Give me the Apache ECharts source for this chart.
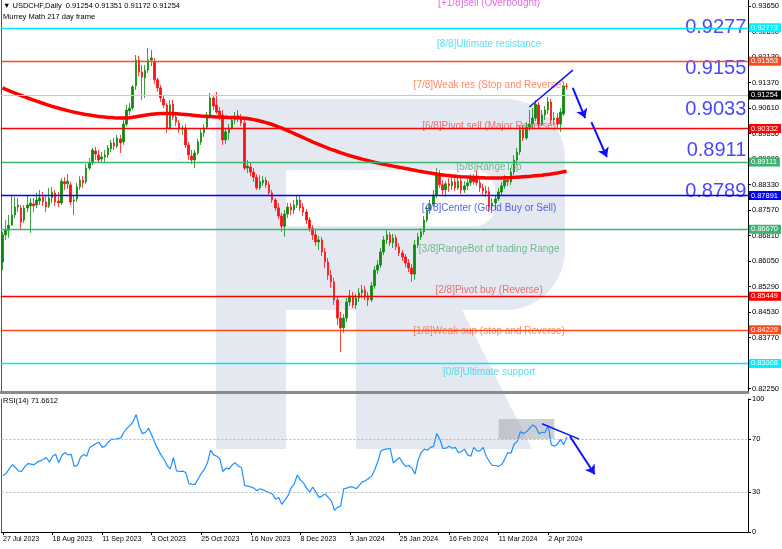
<!DOCTYPE html>
<html><head><meta charset="utf-8">
<script src="https://cdn.jsdelivr.net/npm/echarts@6/dist/echarts.min.js"></script>
<style>html,body{margin:0;padding:0;background:#fff}#c{width:782px;height:549px}</style>
</head><body><div id="c"></div>
<script>
const dateTicks = ['27 Jul 2023','18 Aug 2023','11 Sep 2023','3 Oct 2023','25 Oct 2023','16 Nov 2023','8 Dec 2023','3 Jan 2024','25 Jan 2024','16 Feb 2024','11 Mar 2024','2 Apr 2024'];
const priceTicks = [0.8225,0.8301,0.8377,0.8453,0.8529,0.8605,0.8681,0.8757,0.8833,0.8909,0.8985,0.9061,0.9137,0.9213,0.9289,0.9365];
const rsiTicks = [0,30,70,100];

const opens = [0.8602,0.8683,0.8697,0.8712,0.8742,0.8766,0.8763,0.8727,0.8763,0.8769,
0.8775,0.8772,0.8784,0.8796,0.8781,0.8769,0.8793,0.8808,0.8784,0.8778,
0.8841,0.8835,0.8832,0.8784,0.8790,0.8826,0.8846,0.8841,0.8882,0.8900,
0.8933,0.8921,0.8909,0.8915,0.8921,0.8939,0.8957,0.8948,0.8969,0.8960,
0.9013,0.9052,0.9061,0.9127,0.9204,0.9168,0.9151,0.9174,0.9204,0.9198,
0.9145,0.9121,0.9088,0.9070,0.9001,0.9073,0.9034,0.9016,0.8998,0.9001,
0.8951,0.8918,0.8906,0.8927,0.8960,0.8987,0.9004,0.9040,0.9091,0.9070,
0.9052,0.9040,0.8966,0.8987,0.9001,0.9025,0.9040,0.9031,0.9016,0.8882,
0.8885,0.8870,0.8855,0.8823,0.8838,0.8846,0.8832,0.8808,0.8787,0.8763,
0.8739,0.8709,0.8745,0.8766,0.8757,0.8772,0.8787,0.8766,0.8751,0.8727,
0.8703,0.8683,0.8662,0.8668,0.8632,0.8602,0.8563,0.8543,0.8489,0.8435,
0.8406,0.8435,0.8483,0.8501,0.8474,0.8495,0.8510,0.8519,0.8501,0.8489,
0.8531,0.8578,0.8593,0.8632,0.8668,0.8683,0.8659,0.8674,0.8647,0.8629,
0.8617,0.8599,0.8584,0.8566,0.8653,0.8677,0.8692,0.8727,0.8757,0.8775,
0.8802,0.8864,0.8832,0.8817,0.8835,0.8829,0.8841,0.8823,0.8843,0.8817,
0.8829,0.8838,0.8852,0.8858,0.8838,0.8823,0.8814,0.8811,0.8769,0.8778,
0.8790,0.8811,0.8829,0.8846,0.8841,0.8870,0.8906,0.8930,0.8996,0.8972,
0.9004,0.9013,0.9031,0.9070,0.9013,0.9040,0.9055,0.9079,0.9025,0.9031,
0.9013,0.9043,0.91254];

const closes = [0.8683,0.8697,0.8712,0.8742,0.8766,0.8772,0.8721,0.8763,0.8772,0.8778,
0.8769,0.8787,0.8793,0.8781,0.8766,0.8793,0.8811,0.8781,0.8778,0.8843,
0.8835,0.8843,0.8781,0.8787,0.8826,0.8846,0.8838,0.8882,0.8897,0.8936,
0.8924,0.8906,0.8915,0.8921,0.8942,0.8957,0.8948,0.8972,0.8957,0.9013,
0.9055,0.9061,0.9124,0.9204,0.9168,0.9153,0.9174,0.9204,0.9210,0.9145,
0.9121,0.9091,0.9070,0.9001,0.9070,0.9034,0.9019,0.8998,0.9001,0.8951,
0.8921,0.8906,0.8927,0.8960,0.8987,0.9001,0.9040,0.9091,0.9067,0.9049,
0.9040,0.8966,0.8990,0.9001,0.9025,0.9037,0.9031,0.9016,0.8882,0.8888,
0.8870,0.8855,0.8823,0.8841,0.8846,0.8832,0.8808,0.8787,0.8763,0.8739,
0.8709,0.8745,0.8766,0.8757,0.8772,0.8787,0.8763,0.8751,0.8727,0.8703,
0.8683,0.8662,0.8668,0.8632,0.8602,0.8563,0.8543,0.8489,0.8435,0.8406,
0.8435,0.8483,0.8501,0.8474,0.8495,0.8510,0.8519,0.8501,0.8489,0.8531,
0.8578,0.8593,0.8632,0.8668,0.8683,0.8659,0.8674,0.8647,0.8629,0.8617,
0.8599,0.8584,0.8566,0.8653,0.8677,0.8692,0.8727,0.8757,0.8775,0.8802,
0.8867,0.8832,0.8817,0.8835,0.8829,0.8841,0.8823,0.8843,0.8817,0.8829,
0.8838,0.8852,0.8841,0.8838,0.8823,0.8814,0.8808,0.8769,0.8778,0.8790,
0.8811,0.8829,0.8846,0.8841,0.8870,0.8906,0.8930,0.8996,0.8972,0.9004,
0.9013,0.9031,0.9073,0.9013,0.9040,0.9055,0.9079,0.9025,0.9031,0.9013,
0.9049,0.9127,0.91254];

const highs = [0.8692,0.8727,0.8742,0.8802,0.8796,0.8793,0.8772,0.8772,0.8802,0.8793,
0.8793,0.8808,0.8817,0.8811,0.8802,0.8823,0.8826,0.8817,0.8811,0.8852,
0.8855,0.8864,0.8841,0.8802,0.8838,0.8858,0.8858,0.8894,0.8912,0.8942,
0.8945,0.8936,0.8930,0.8936,0.8951,0.8966,0.8972,0.8981,0.8981,0.9025,
0.9070,0.9076,0.9130,0.9219,0.9216,0.9189,0.9189,0.9240,0.9234,0.9210,
0.9151,0.9130,0.9097,0.9076,0.9085,0.9085,0.9043,0.9025,0.9010,0.9013,
0.8960,0.8936,0.8936,0.8969,0.9001,0.9013,0.9049,0.9106,0.9100,0.9109,
0.9064,0.9055,0.9001,0.9013,0.9037,0.9049,0.9055,0.9043,0.9025,0.8906,
0.8897,0.8882,0.8864,0.8861,0.8858,0.8855,0.8843,0.8817,0.8793,0.8778,
0.8748,0.8757,0.8778,0.8778,0.8787,0.8802,0.8799,0.8778,0.8760,0.8736,
0.8712,0.8697,0.8680,0.8677,0.8644,0.8614,0.8578,0.8555,0.8501,0.8453,
0.8447,0.8495,0.8519,0.8513,0.8507,0.8525,0.8534,0.8531,0.8513,0.8543,
0.8590,0.8608,0.8644,0.8680,0.8697,0.8692,0.8686,0.8683,0.8659,0.8638,
0.8626,0.8611,0.8596,0.8668,0.8689,0.8703,0.8739,0.8769,0.8787,0.8817,
0.8882,0.8876,0.8846,0.8843,0.8852,0.8855,0.8852,0.8858,0.8852,0.8843,
0.8849,0.8864,0.8864,0.8876,0.8852,0.8835,0.8829,0.8826,0.8793,0.8802,
0.8823,0.8841,0.8861,0.8858,0.8882,0.8921,0.8942,0.9007,0.9010,0.9019,
0.9055,0.9061,0.9085,0.9079,0.9055,0.9067,0.9094,0.9088,0.9049,0.9046,
0.9061,0.9139,0.91351];

const lows = [0.8578,0.8668,0.8674,0.8721,0.8733,0.8751,0.8697,0.8718,0.8751,0.8689,
0.8751,0.8763,0.8772,0.8769,0.8751,0.8763,0.8778,0.8769,0.8766,0.8772,
0.8817,0.8820,0.8772,0.8742,0.8781,0.8817,0.8823,0.8835,0.8876,0.8891,
0.8906,0.8897,0.8897,0.8900,0.8912,0.8930,0.8936,0.8942,0.8927,0.8951,
0.9007,0.9040,0.9055,0.9115,0.9156,0.9085,0.9091,0.9165,0.9186,0.9133,
0.9109,0.9079,0.9061,0.8987,0.8996,0.9025,0.9007,0.8987,0.8981,0.8942,
0.8906,0.8894,0.8882,0.8921,0.8951,0.8975,0.8998,0.9031,0.9055,0.9043,
0.9025,0.8951,0.8954,0.8966,0.8996,0.9013,0.9019,0.9007,0.8876,0.8867,
0.8858,0.8841,0.8817,0.8817,0.8829,0.8823,0.8802,0.8778,0.8754,0.8730,
0.8692,0.8677,0.8733,0.8742,0.8745,0.8763,0.8754,0.8739,0.8715,0.8692,
0.8668,0.8650,0.8638,0.8620,0.8584,0.8549,0.8525,0.8474,0.8414,0.8334,
0.8391,0.8423,0.8471,0.8465,0.8462,0.8483,0.8495,0.8489,0.8471,0.8483,
0.8522,0.8566,0.8584,0.8623,0.8656,0.8650,0.8644,0.8638,0.8620,0.8605,
0.8587,0.8572,0.8543,0.8549,0.8644,0.8668,0.8683,0.8721,0.8745,0.8766,
0.8793,0.8823,0.8799,0.8796,0.8811,0.8817,0.8814,0.8817,0.8805,0.8808,
0.8817,0.8829,0.8832,0.8829,0.8811,0.8802,0.8796,0.8751,0.8748,0.8757,
0.8784,0.8802,0.8820,0.8829,0.8832,0.8861,0.8891,0.8921,0.8963,0.8966,
0.8993,0.9001,0.9022,0.9001,0.9007,0.9025,0.9043,0.9013,0.9010,0.9001,
0.8990,0.9037,0.91172];

const maVals = [0.91207,0.91168,0.91129,0.91090,0.91055,0.91019,0.90983,0.90947,0.90914,0.90879,
0.90846,0.90813,0.90781,0.90751,0.90721,0.90691,0.90661,0.90634,0.90608,0.90581,
0.90557,0.90533,0.90509,0.90488,0.90467,0.90450,0.90432,0.90414,0.90399,0.90384,
0.90372,0.90360,0.90348,0.90339,0.90330,0.90324,0.90318,0.90313,0.90310,0.90310,
0.90313,0.90321,0.90333,0.90348,0.90366,0.90381,0.90396,0.90411,0.90423,0.90432,
0.90438,0.90444,0.90447,0.90447,0.90447,0.90444,0.90438,0.90432,0.90426,0.90417,
0.90408,0.90399,0.90390,0.90381,0.90372,0.90366,0.90360,0.90354,0.90348,0.90342,
0.90339,0.90336,0.90333,0.90330,0.90327,0.90324,0.90321,0.90315,0.90307,0.90295,
0.90283,0.90265,0.90244,0.90223,0.90199,0.90175,0.90149,0.90119,0.90086,0.90050,
0.90015,0.89976,0.89937,0.89895,0.89854,0.89812,0.89771,0.89729,0.89687,0.89645,
0.89603,0.89565,0.89526,0.89487,0.89451,0.89415,0.89380,0.89347,0.89314,0.89281,
0.89252,0.89222,0.89192,0.89165,0.89138,0.89112,0.89088,0.89064,0.89040,0.89016,
0.88995,0.88975,0.88954,0.88933,0.88915,0.88897,0.88879,0.88861,0.88843,0.88826,
0.88808,0.88790,0.88772,0.88754,0.88736,0.88719,0.88701,0.88686,0.88671,0.88656,
0.88641,0.88629,0.88617,0.88605,0.88596,0.88587,0.88578,0.88569,0.88563,0.88558,
0.88552,0.88546,0.88540,0.88537,0.88534,0.88531,0.88528,0.88525,0.88525,0.88525,
0.88525,0.88528,0.88531,0.88534,0.88537,0.88543,0.88549,0.88555,0.88561,0.88567,
0.88572,0.88581,0.88590,0.88599,0.88608,0.88620,0.88632,0.88644,0.88659,0.88674,
0.88692,0.88710,0.88728];

const rsiVals = [42.3,44,47.5,50.6,48.5,46,45.5,49,51.4,51,
50.6,52.5,53.5,54.5,56,52.5,57,58.4,52,57.5,
59.7,58,58.4,49.4,50,56,58.4,57,63.6,65,
66.5,67.5,63.6,64.5,67.5,70,69.5,70.3,70.6,75,
78,80,83,88.3,79,74,75,78,73,67,
62.3,58,54.5,50,47.3,56,46,45.5,45.8,44.7,
36.4,36,35.8,40,44,47,52,61.6,58,57,
55,45.5,48,47.5,50.5,52,49.4,48.5,35,34.5,
33.8,33,31,32.5,31.7,30.5,29.5,28.6,24.7,26,
20.8,24,27.3,33.2,36,42.9,39,36.9,33,29.9,
33.8,30,26,27,28.6,26,23.4,16.4,18.5,19.5,
32.5,33,34,33.8,32.5,35,37.7,38.5,40.3,42,
46.8,53,61,62,62.5,62.8,52,54,56,52,
49.4,50,48,43.6,54,59.7,62.3,61.5,63.6,64.4,
74,70,62.8,63,64.4,63,63.6,59.7,60.5,62.3,
58,57,63.6,61,61,63.6,57,53,50,50,
49.4,50.6,55,59.7,59.2,66.2,68,75.3,74,75.3,
78,80.5,79,74,75,74.8,80,65.5,64.5,66.2,
69.6,65.5,71.66];

const levelValues = [0.93994,0.92773,0.91553,0.90332,0.89111,0.87891,0.86670,0.85449,0.84229,0.83008];
const levelNames = ['[+1/8]sell (Overbought)','[8/8]Ultimate resistance','[7/8]Weak res (Stop and Reverse)','[6/8]Pivot sell (Major Reverse)','[5/8]RangeTop','[4/8]Center (Good Buy or Sell)','[3/8]RangeBot of trading Range','[2/8]Pivot buy (Reverse)','[1/8]Weak sup (stop and Reverse)','[0/8]Ultimate support'];
const bigValues = [0.92773,0.91553,0.90332,0.89111,0.87891];
const bigLabels = ['0.9277','0.9155','0.9033','0.8911','0.8789'];
const lastPrice = 0.91254;

// styles
const FONT = 'Liberation Sans, Arial, sans-serif';
const lineColors = ['#ff00ff','#00e4ff','#ff4a1c','#ff0000','#3cb371','#0000ff','#3cb371','#ff0000','#ff4a1c','#00e4ff'];
const tagColors  = ['#ff00ff','#00f0ff','#ff4a1c','#ff0000','#3cb371','#0000ff','#3cb371','#ff0000','#ff4a1c','#00f0ff'];
const textColors = ['#e040e0','#30d6ea','#ff6a40','#e65050','#52ad78','#2a3ce0','#52ad78','#e65050','#ff6a40','#30d6ea'];

const N = 241;
const cats = Array.from({length: N}, (_, i) => 'b' + i);
const showTick = (i) => i % 16 === 0 && i / 16 < dateTicks.length;
const candle = opens.map((o, i) => [o, closes[i], lows[i], highs[i]]);

const levelLines = levelValues.slice(1).map((v, k) => ({
  yAxis: v,
  lineStyle: {color: lineColors[k + 1], width: 1.3, type: 'solid'},
  label: {formatter: v.toFixed(5), backgroundColor: tagColors[k + 1]}
}));
levelLines.push({yAxis: lastPrice, lineStyle: {color: '#c8c8c8', width: 1, type: 'solid'},
  label: {formatter: lastPrice.toFixed(5), backgroundColor: '#000'}});

const arrowStyle = {color: '#1010ff', width: 2, type: 'solid'};
const wmFill = '#e4e9f1';

const chart = echarts.init(document.getElementById('c'), null, {renderer: 'canvas'});
chart.setOption({
  animation: false,
  backgroundColor: '#fff',
  title: [
    {text: '\u25BC USDCHF,Daily  0.91254 0.91351 0.91172 0.91254', left: 3, top: 2, padding: 0,
     textStyle: {fontSize: 7.5, fontWeight: 'normal', color: '#000', fontFamily: FONT}},
    {text: 'Murrey Math 217 day frame', left: 3, top: 13, padding: 0,
     textStyle: {fontSize: 7.5, fontWeight: 'normal', color: '#000', fontFamily: FONT}},
    {text: 'RSI(14) 71.6612', left: 3, top: 397, padding: 0,
     textStyle: {fontSize: 7.5, fontWeight: 'normal', color: '#000', fontFamily: FONT}}
  ],
  graphic: [
    {type: 'rect', silent: true, z: -5, z2: 0, shape: {x: 216, y: 99, width: 349, height: 211, r: [0, 60, 60, 0]}, style: {fill: wmFill}},
    {type: 'rect', silent: true, z: -5, z2: 0, shape: {x: 216, y: 99, width: 70, height: 350}, style: {fill: wmFill}},
    {type: 'polygon', silent: true, z: -5, z2: 0, shape: {points: [[356, 310], [462, 310], [532, 449], [356, 449]]}, style: {fill: wmFill}},
    {type: 'rect', silent: true, z: -5, z2: 5, shape: {x: 286, y: 170, width: 209, height: 56, r: [0, 20, 20, 0]}, style: {fill: '#ffffff'}}
  ],
  grid: [
    {left: 1, right: 34, top: 0, height: 392},
    {left: 1, right: 34, top: 399, height: 133}
  ],
  xAxis: [
    {type: 'category', gridIndex: 0, data: cats, boundaryGap: true,
     axisLine: {show: true, lineStyle: {color: '#8a8a8a', width: 3}},
     axisTick: {show: false}, axisLabel: {show: false}, splitLine: {show: false}},
    {type: 'category', gridIndex: 1, data: cats, boundaryGap: true,
     axisLine: {show: true, lineStyle: {color: '#000', width: 1}},
     axisTick: {show: true, interval: (i) => showTick(i), alignWithLabel: true, length: 3, lineStyle: {color: '#000'}},
     axisLabel: {interval: (i) => showTick(i), formatter: (v, i) => showTick(i) ? dateTicks[i / 16] : '',
       align: 'left', fontSize: 7, color: '#000', margin: 4, fontFamily: FONT},
     splitLine: {show: false}}
  ],
  yAxis: [
    {type: 'value', gridIndex: 0, position: 'right', min: 0.82147, max: 0.93829,
     axisLine: {show: true, lineStyle: {color: '#000'}},
     axisTick: {show: true, customValues: priceTicks, length: 3, lineStyle: {color: '#000'}},
     axisLabel: {customValues: priceTicks, formatter: (v) => v.toFixed(5), fontSize: 7.5, color: '#000', margin: 4, fontFamily: FONT},
     splitLine: {show: false}},
    {type: 'value', gridIndex: 1, position: 'right', min: 0, max: 100,
     axisLine: {show: true, lineStyle: {color: '#000'}},
     axisTick: {show: true, customValues: rsiTicks, length: 3, lineStyle: {color: '#000'}},
     axisLabel: {customValues: rsiTicks, fontSize: 7.5, color: '#000', margin: 4, fontFamily: FONT},
     splitLine: {show: false}},
    {type: 'value', gridIndex: 0, position: 'left', min: 0, max: 1,
     axisLine: {show: true, lineStyle: {color: '#555'}}, axisTick: {show: false}, axisLabel: {show: false}, splitLine: {show: false}},
    {type: 'value', gridIndex: 1, position: 'left', min: 0, max: 1,
     axisLine: {show: true, lineStyle: {color: '#555'}}, axisTick: {show: false}, axisLabel: {show: false}, splitLine: {show: false}}
  ],
  series: [
    {
      name: 'USDCHF', type: 'candlestick', xAxisIndex: 0, yAxisIndex: 0,
      data: candle, barWidth: 2,
      itemStyle: {color: '#0b8a0b', color0: '#ff1010', borderColor: '#0b8a0b', borderColor0: '#ff1010', borderWidth: 0.8}
    },
    {
      name: 'MA217', type: 'line', xAxisIndex: 0, yAxisIndex: 0, data: maVals,
      symbol: 'none', showSymbol: false, lineStyle: {color: '#ff0000', width: 3.5}, z: 3,
      markLine: {
        silent: true, symbol: 'none', animation: false,
        label: {show: true, position: 'end', distance: 1, color: '#fff', fontSize: 7.5, fontFamily: FONT, padding: [1, 3, 0, 2]},
        data: levelLines
      }
    },
    {
      name: 'levelText', type: 'scatter', xAxisIndex: 0, yAxisIndex: 0, symbolSize: 0, clip: false, silent: true, z: 4,
      data: levelValues.map((v, k) => ({value: [157, v], label: {color: textColors[k]}})),
      label: {show: true, position: 'bottom', distance: 4, fontSize: 10, fontFamily: FONT,
        formatter: (p) => levelNames[p.dataIndex]}
    },
    {
      name: 'bigLevels', type: 'scatter', xAxisIndex: 0, yAxisIndex: 0, symbolSize: 0, clip: false, silent: true, z: 4,
      data: bigValues.map((v) => [240, v]),
      label: {show: true, position: 'top', align: 'right', distance: -2, fontSize: 20, color: '#1818ff', fontFamily: FONT,
        formatter: (p) => bigLabels[p.dataIndex]},
      markLine: {
        silent: true, animation: false, symbol: ['none', 'arrow'], symbolSize: 9, label: {show: false},
        data: [
          [{coord: [cats[170], 0.9064], symbol: 'none', lineStyle: {color: '#1010ff', width: 1.5, type: 'solid'}}, {coord: [cats[184], 0.9174], symbol: 'none'}],
          [{coord: [cats[184], 0.9121], symbol: 'none', lineStyle: arrowStyle}, {coord: [cats[188], 0.9031], symbol: 'arrow'}],
          [{coord: [cats[190], 0.9019], symbol: 'none', lineStyle: arrowStyle}, {coord: [cats[195], 0.8915], symbol: 'arrow'}]
        ]
      }
    },
    {
      name: 'RSI(14)', type: 'line', xAxisIndex: 1, yAxisIndex: 1, data: rsiVals,
      symbol: 'none', showSymbol: false, lineStyle: {color: '#1e90ff', width: 1.2},
      markArea: {silent: true, itemStyle: {color: 'rgba(165,167,175,0.55)'},
        data: [[{xAxis: cats[160], yAxis: 85}, {xAxis: cats[178], yAxis: 70}]]},
      markLine: {
        silent: true, animation: false, symbol: 'none', label: {show: false},
        data: [
          {yAxis: 70, lineStyle: {color: '#b8b8b8', width: 1, type: [2, 2]}},
          {yAxis: 30, lineStyle: {color: '#b8b8b8', width: 1, type: [2, 2]}}
        ]
      }
    },
    {
      name: 'rsiTrend', type: 'line', xAxisIndex: 1, yAxisIndex: 1, data: [], silent: true,
      markLine: {
        silent: true, animation: false, symbol: ['none', 'arrow'], symbolSize: 9, label: {show: false},
        data: [
          [{coord: [cats[174], 81.4], symbol: 'none', lineStyle: {color: '#1010ff', width: 1.5, type: 'solid'}}, {coord: [cats[186], 69.8], symbol: 'none'}],
          [{coord: [cats[183], 72], symbol: 'none', lineStyle: arrowStyle}, {coord: [cats[191], 43.4], symbol: 'arrow'}]
        ]
      }
    }
  ]
});
</script>
</body></html>
